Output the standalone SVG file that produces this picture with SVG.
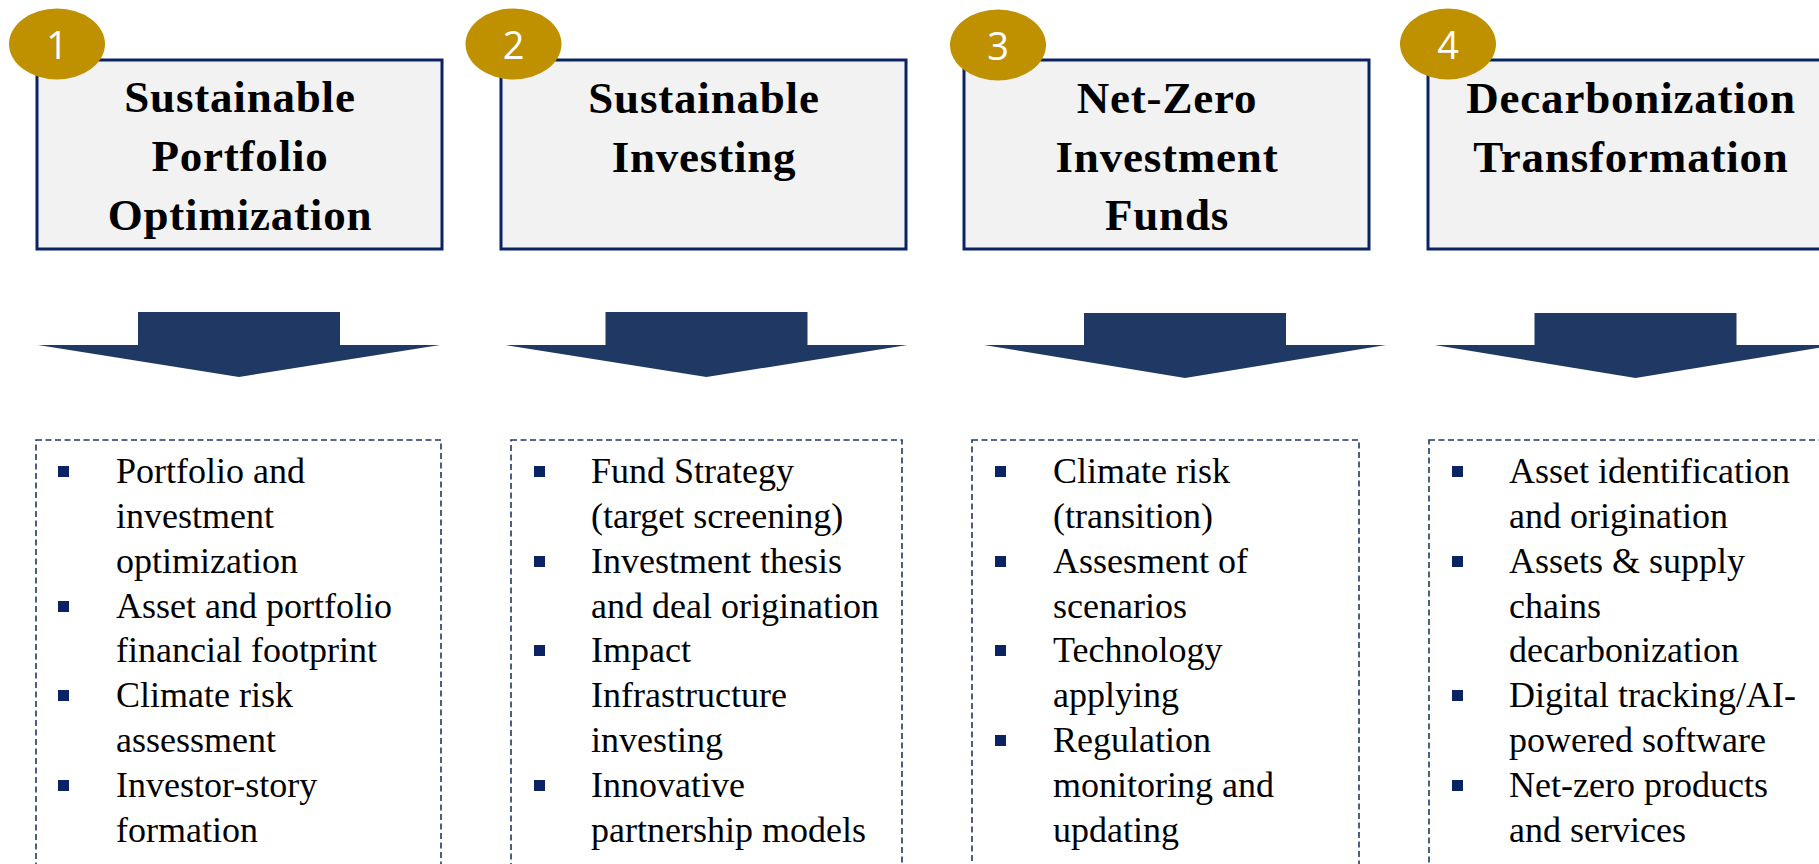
<svg xmlns="http://www.w3.org/2000/svg" width="1819" height="864" viewBox="0 0 1819 864">
<style>
.box{fill:#F2F2F2;stroke:#0A2463;stroke-width:3}
.badge{fill:#BF9000}
.num{font-family:"Open Sans","Liberation Sans",sans-serif;font-size:38px;fill:#FFFFFF;text-anchor:middle}
.title{font-family:"Liberation Serif","DejaVu Serif",serif;font-weight:bold;font-size:45px;letter-spacing:0.8px;fill:#000000;text-anchor:middle}
.arrow{fill:#203864}
.list{fill:none;stroke:#203864;stroke-width:1.6;stroke-dasharray:6 3.5}
.bul{fill:#0A2463}
.item{font-family:"Liberation Serif","DejaVu Serif",serif;font-size:36px;fill:#000000}
</style>
<rect width="1819" height="864" fill="#FFFFFF"/>

<g id="connectors">
<polygon class="arrow" points="138,312 340,312 340,345 440,345 239,377 38,345 138,345"/>
<polygon class="arrow" points="605.5,312 807.5,312 807.5,345 907.5,345 706.5,377 505.5,345 605.5,345"/>
<polygon class="arrow" points="1084,313 1286,313 1286,345 1386,345 1185,378 984,345 1084,345"/>
<polygon class="arrow" points="1534.5,313 1736.5,313 1736.5,345 1836.5,345 1635.5,378 1434.5,345 1534.5,345"/>
</g>

<g id="node1">
<rect class="box" x="37" y="60" width="405" height="189"/>
<ellipse class="badge" cx="57" cy="44" rx="48" ry="35.5"/>
<text class="num" x="57" y="59">1</text>
<text class="title" x="240" y="112">Sustainable</text>
<text class="title" x="240" y="171">Portfolio</text>
<text class="title" x="240" y="230">Optimization</text>
</g>
<g id="node2">
<rect class="box" x="501" y="60" width="405" height="189"/>
<ellipse class="badge" cx="513.5" cy="44" rx="48" ry="35.5"/>
<text class="num" x="513.5" y="59">2</text>
<text class="title" x="704" y="113">Sustainable</text>
<text class="title" x="704" y="172">Investing</text>
</g>
<g id="node3">
<rect class="box" x="964" y="60" width="405" height="189"/>
<ellipse class="badge" cx="998" cy="45" rx="48" ry="35.5"/>
<text class="num" x="998" y="60">3</text>
<text class="title" x="1167" y="113">Net-Zero</text>
<text class="title" x="1167" y="172">Investment</text>
<text class="title" x="1167" y="230">Funds</text>
</g>
<g id="node4">
<rect class="box" x="1428" y="60" width="405" height="189"/>
<ellipse class="badge" cx="1448" cy="44" rx="48" ry="35.5"/>
<text class="num" x="1448" y="59">4</text>
<text class="title" x="1631" y="113">Decarbonization</text>
<text class="title" x="1631" y="172">Transformation</text>
</g>

<g id="list1">
<rect class="list" x="36" y="440" width="405" height="460"/>
<rect class="bul" x="58" y="466" width="11" height="11"/>
<rect class="bul" x="58" y="601" width="11" height="11"/>
<rect class="bul" x="58" y="690" width="11" height="11"/>
<rect class="bul" x="58" y="780" width="11" height="11"/>
<text class="item" x="116" y="483">Portfolio and</text>
<text class="item" x="116" y="528">investment</text>
<text class="item" x="116" y="573">optimization</text>
<text class="item" x="116" y="618">Asset and portfolio</text>
<text class="item" x="116" y="662">financial footprint</text>
<text class="item" x="116" y="707">Climate risk</text>
<text class="item" x="116" y="752">assessment</text>
<text class="item" x="116" y="797">Investor-story</text>
<text class="item" x="116" y="842">formation</text>
</g>
<g id="list2">
<rect class="list" x="511" y="440" width="391" height="460"/>
<rect class="bul" x="534" y="466" width="11" height="11"/>
<rect class="bul" x="534" y="556" width="11" height="11"/>
<rect class="bul" x="534" y="645" width="11" height="11"/>
<rect class="bul" x="534" y="780" width="11" height="11"/>
<text class="item" x="591" y="483">Fund Strategy</text>
<text class="item" x="591" y="528">(target screening)</text>
<text class="item" x="591" y="573">Investment thesis</text>
<text class="item" x="591" y="618">and deal origination</text>
<text class="item" x="591" y="662">Impact</text>
<text class="item" x="591" y="707">Infrastructure</text>
<text class="item" x="591" y="752">investing</text>
<text class="item" x="591" y="797">Innovative</text>
<text class="item" x="591" y="842">partnership models</text>
</g>
<g id="list3">
<rect class="list" x="972" y="440" width="387" height="460"/>
<rect class="bul" x="995" y="466" width="11" height="11"/>
<rect class="bul" x="995" y="556" width="11" height="11"/>
<rect class="bul" x="995" y="645" width="11" height="11"/>
<rect class="bul" x="995" y="735" width="11" height="11"/>
<text class="item" x="1053" y="483">Climate risk</text>
<text class="item" x="1053" y="528">(transition)</text>
<text class="item" x="1053" y="573">Assesment of</text>
<text class="item" x="1053" y="618">scenarios</text>
<text class="item" x="1053" y="662">Technology</text>
<text class="item" x="1053" y="707">applying</text>
<text class="item" x="1053" y="752">Regulation</text>
<text class="item" x="1053" y="797">monitoring and</text>
<text class="item" x="1053" y="842">updating</text>
</g>
<g id="list4">
<rect class="list" x="1429" y="440" width="402" height="460"/>
<rect class="bul" x="1452" y="466" width="11" height="11"/>
<rect class="bul" x="1452" y="556" width="11" height="11"/>
<rect class="bul" x="1452" y="690" width="11" height="11"/>
<rect class="bul" x="1452" y="780" width="11" height="11"/>
<text class="item" x="1509" y="483">Asset identification</text>
<text class="item" x="1509" y="528">and origination</text>
<text class="item" x="1509" y="573">Assets &amp; supply</text>
<text class="item" x="1509" y="618">chains</text>
<text class="item" x="1509" y="662">decarbonization</text>
<text class="item" x="1509" y="707">Digital tracking/AI-</text>
<text class="item" x="1509" y="752">powered software</text>
<text class="item" x="1509" y="797">Net-zero products</text>
<text class="item" x="1509" y="842">and services</text>
</g>
</svg>
